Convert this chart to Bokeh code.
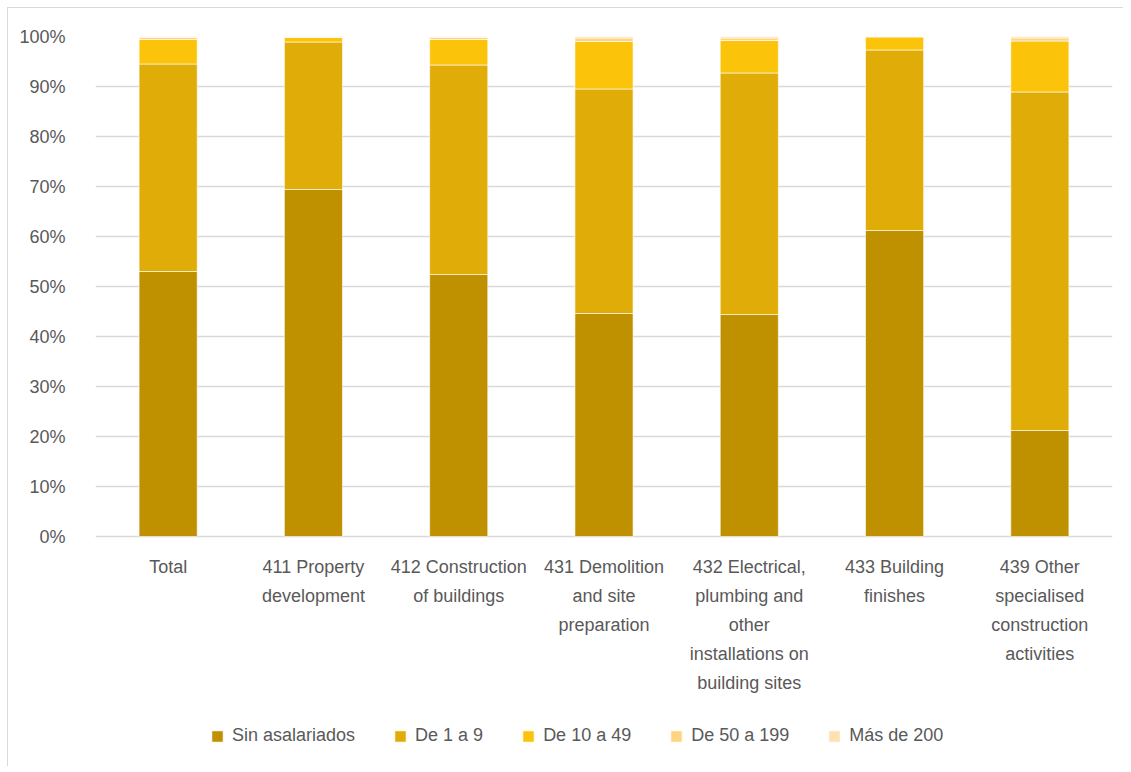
from bokeh.plotting import figure
from bokeh.models import FactorRange, PrintfTickFormatter, Legend, LegendItem, ColumnDataSource
from bokeh.core.properties import value
from bokeh.embed import file_html
from bokeh.resources import INLINE

categories = ["Total", "411 Property\ndevelopment", "412 Construction\nof buildings",
              "431 Demolition\nand site\npreparation",
              "432 Electrical,\nplumbing and\nother\ninstallations on\nbuilding sites",
              "433 Building\nfinishes",
              "439 Other\nspecialised\nconstruction\nactivities"]
series_names = ["Sin asalariados", "De 1 a 9", "De 10 a 49", "De 50 a 199", "Más de 200"]
sin_asalariados = [53.0, 69.4, 52.4, 44.6, 44.4, 61.2, 21.2]
de_1_a_9 = [41.5, 29.5, 41.9, 44.9, 48.3, 36.1, 67.7]
de_10_a_49 = [4.9, 0.9, 5.1, 9.5, 6.5, 2.6, 10.2]
de_50_a_199 = [0.4, 0.1, 0.4, 0.7, 0.5, 0.1, 0.6]
mas_de_200 = [0.2, 0.1, 0.2, 0.3, 0.3, 0.0, 0.3]
colors = ["#BF9000", "#E0AC08", "#FCC30B", "#FFD480", "#FFE0B3"]
y_ticks = [0, 10, 20, 30, 40, 50, 60, 70, 80, 90, 100]

FONT = "Liberation Sans"
TXT = "#595959"

keys = ["s0", "s1", "s2", "s3", "s4"]
data = {"cat": categories}
for k, vals in zip(keys, [sin_asalariados, de_1_a_9, de_10_a_49, de_50_a_199, mas_de_200]):
    data[k] = vals
source = ColumnDataSource(data)

# frame extends below 0 so that category labels and legend live inside it
p = figure(frame_width=1017, frame_height=730, x_range=FactorRange(*categories, range_padding=0),
           y_range=(-46, 100), output_backend="svg", toolbar_location=None,
           x_axis_location=None,
           min_border_left=87, min_border_right=11, min_border_top=28, min_border_bottom=0)
p.styles = {"border-top": "1px solid #D9D9D9", "border-left": "1px solid #D9D9D9",
            "margin-left": "7px", "margin-top": "7px"}
p.outline_line_color = None

renderers = p.vbar_stack(keys, x="cat", width=0.4, source=source, color=colors,
                         line_color="white", line_width=0.6)

p.text(x="cat", y=-4, text="cat", source=source, text_font=value(FONT),
       text_font_size="18px", text_color=TXT, text_align="center",
       text_baseline="top", text_line_height=1.46)

p.xgrid.grid_line_color = None
p.ygrid.grid_line_color = "#D9D9D9"
p.ygrid.grid_line_width = 1.5
p.yaxis.ticker = y_ticks
p.yaxis.formatter = PrintfTickFormatter(format="%d%%")
p.yaxis.axis_line_color = None
p.yaxis.major_tick_line_color = None
p.yaxis.minor_tick_line_color = None
p.yaxis.major_label_standoff = 24
p.yaxis.major_label_text_font = FONT
p.yaxis.major_label_text_font_size = "18px"
p.yaxis.major_label_text_color = TXT

legend = Legend(items=[LegendItem(label=n, renderers=[r]) for n, r in zip(series_names, renderers)],
                orientation="horizontal", location=(115, 20),
                label_text_font=FONT, label_text_font_size="18px", label_text_color=TXT,
                glyph_width=14, glyph_height=14, label_standoff=8, spacing=38,
                border_line_color=None, background_fill_alpha=0, margin=0, padding=4)
p.add_layout(legend, "center")

open("out.html", "w").write(file_html(p, INLINE))
